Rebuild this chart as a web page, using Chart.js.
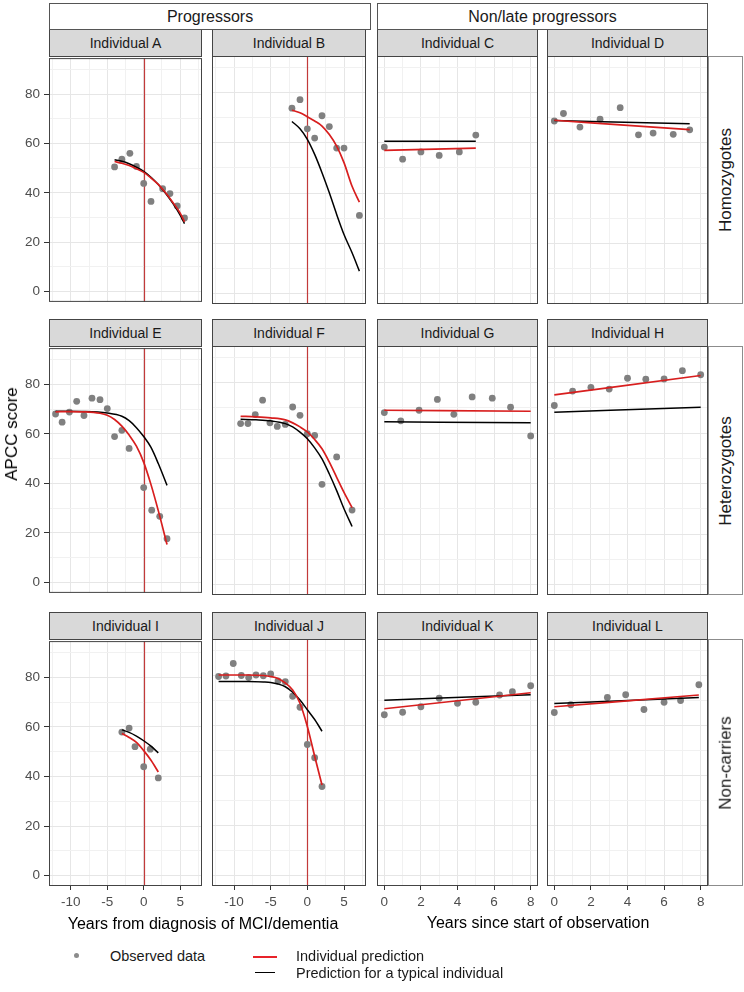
<!DOCTYPE html>
<html>
<head>
<meta charset="utf-8">
<script src="https://cdn.jsdelivr.net/npm/chart.js@4.4.1/dist/chart.umd.min.js"></script>
<style>
  body { margin: 0; width: 744px; height: 992px; position: relative; overflow: hidden; background: #fff;
         font-family: "Liberation Sans", Arial, sans-serif; color: #000; }
  canvas { position: absolute; }
  .strip { position: absolute; box-sizing: border-box; display: flex; align-items: center; justify-content: center;
           color: #1a1a1a; white-space: nowrap; }
  .ind { background: #d9d9d9; border: 1px solid #444; font-size: 14px; }
  .top { background: #fff; border: 1px solid #555; font-size: 16px; }
  .side { background: #fff; border: 1px solid #8c8c8c; }
  .side span { transform: rotate(-90deg); font-size: 17px; }
  .txt { position: absolute; white-space: nowrap; transform: translate(-50%, -50%); }
  .leg { position: absolute; white-space: nowrap; transform: translateY(-50%); font-size: 14.5px; color: #1a1a1a; }
</style>
</head>
<body>
<script>
// tick / grid positions
const gridLeftX = [-12.5, -10, -7.5, -5, -2.5, 0, 2.5, 5, 7.5];
const labelsLeftX = [-10, -5, 0, 5];
const gridRightX = [0, 1, 2, 3, 4, 5, 6, 7, 8];
const labelsRightX = [0, 2, 4, 6, 8];
const gridY = [0, 10, 20, 30, 40, 50, 60, 70, 80, 90];
const labelsY = [0, 20, 40, 60, 80];
const diagnosisYear = 0;

// [years, APCC score] : observed points, individual prediction, typical prediction
const obsA = [[-4, 50.5], [-3, 53.6], [-1.9, 56.0], [-1, 50.7], [0, 43.8], [1, 36.5], [2.6, 41.7], [3.6, 39.7], [4.6, 34.7], [5.6, 29.8]];
const indA = [[-4, 52.7], [-3, 52.0], [-2, 51.1], [-1, 49.8], [0, 48.3], [1, 46.0], [2, 43.4], [3, 40.0], [4, 36.1], [5, 31.8], [5.6, 28.2]];
const typA = [[-4, 53.4], [-3, 52.8], [-2, 51.8], [-1, 50.4], [0, 48.7], [1, 46.3], [2, 43.4], [3, 39.8], [4, 35.7], [5, 31.0], [5.6, 27.5]];

const obsB = [[-2.1, 73.8], [-1, 77.2], [0, 65.6], [1, 61.9], [2, 70.8], [3, 66.5], [4, 57.9], [5, 57.9], [7.1, 31.1]];
const indB = [[-2.1, 73.0], [-1, 72.0], [0, 70.4], [1, 68.7], [2, 66.7], [3, 63.3], [4, 58.7], [5, 52.1], [6.1, 42.7], [7.1, 36.4]];
const typB = [[-2.1, 68.5], [-1, 65.6], [0, 61.4], [1, 55.4], [2, 48.1], [3, 40.1], [4, 31.5], [5, 23.5], [6.1, 16.2], [7.1, 8.9]];

const obsC = [[0, 58.3], [1, 53.5], [2, 56.4], [3, 55.0], [4.1, 56.4], [5, 63.1]];
const indC = [[0, 57.0], [5, 57.9]];
const typC = [[0, 60.6], [5, 60.6]];

const obsD = [[0, 68.7], [0.5, 71.7], [1.4, 66.3], [2.5, 69.4], [3.6, 74.0], [4.6, 63.2], [5.4, 63.9], [6.5, 63.4], [7.4, 65.2]];
const indD = [[0, 69.0], [7.4, 65.3]];
const typD = [[0, 68.9], [7.4, 67.6]];

const obsE = [[-12.1, 68.0], [-11.2, 64.7], [-10.2, 68.8], [-9.2, 73.1], [-8.2, 67.4], [-7.1, 74.4], [-6, 73.8], [-5, 70.2],
              [-4, 58.9], [-3, 61.4], [-2, 54.1], [0, 38.3], [1.1, 29.2], [2.2, 26.7], [3.2, 17.7]];
const indE = [[-12.1, 68.9], [-10, 69.0], [-8, 68.9], [-6, 68.3], [-5, 67.5], [-4, 65.8], [-3, 63.1], [-2, 59.5], [-1, 55.0],
              [0, 48.5], [1, 39.5], [2, 29.0], [3.2, 15.3]];
const typE = [[-12.1, 69.1], [-8, 69.0], [-5, 68.4], [-3, 67.1], [-2, 65.3], [-1, 62.5], [0, 58.9], [1, 54.5], [2, 48.0], [3.2, 39.2]];

const obsF = [[-9.1, 63.8], [-8.1, 63.8], [-7.1, 67.4], [-6.1, 73.1], [-5.1, 64.1], [-4.1, 62.7], [-3, 63.5], [-2, 70.4],
              [-1, 67.1], [0, 59.8], [1, 59.1], [2, 39.7], [4, 50.6], [6.1, 29.5]];
const indF = [[-9.1, 66.7], [-7, 66.5], [-5, 66.1], [-3, 65.3], [-2, 64.1], [-1, 62.5], [0, 60.5], [1, 57.5], [2, 53.8],
              [3, 48.5], [4, 42.5], [5, 36.5], [6.1, 30.5]];
const typF = [[-9.1, 65.5], [-7, 65.3], [-5, 64.9], [-3, 63.8], [-2, 62.5], [-1, 60.4], [0, 57.8], [1, 54.2], [2, 49.8],
              [3, 43.8], [4, 37.2], [5, 30.0], [6.1, 23.0]];

const obsG = [[0, 68.2], [0.9, 64.9], [1.9, 69.1], [2.9, 73.4], [3.8, 67.5], [4.8, 74.4], [5.9, 73.9], [6.9, 70.3], [8, 58.9]];
const indG = [[0, 69.1], [8, 68.7]];
const typG = [[0, 64.5], [8, 64.1]];

const obsH = [[0, 71.0], [1, 76.7], [2, 78.2], [3, 77.5], [4, 81.8], [5, 81.4], [6, 81.5], [7, 84.8], [8, 83.2]];
const indH = [[0, 75.2], [8, 82.9]];
const typH = [[0, 68.3], [8, 70.3]];

const obsI = [[-3, 57.9], [-2, 59.5], [-1.2, 52.0], [0, 43.9], [0.9, 51.0], [2, 39.4]];
const indI = [[-3, 57.3], [-2, 55.7], [-1, 53.7], [0, 50.4], [1, 46.5], [2, 41.8]];
const typI = [[-3, 58.8], [-2, 57.8], [-1, 56.3], [0, 54.4], [1, 52.2], [2, 49.5]];

const obsJ = [[-12.1, 79.6], [-11.1, 79.8], [-10.1, 84.8], [-9, 80.0], [-8, 79.2], [-7, 80.2], [-6, 79.9], [-5, 80.6],
              [-4, 77.8], [-3, 77.5], [-2, 71.7], [-1, 67.3], [0, 52.4], [1, 47.1], [2, 35.6]];
const indJ = [[-12.1, 80.2], [-8, 80.2], [-6, 80.0], [-5, 79.6], [-4, 78.8], [-3, 77.0], [-2, 74.2], [-1, 68.9], [0, 59.6],
              [1, 47.7], [2, 36.2]];
const typJ = [[-12.1, 77.6], [-8, 77.6], [-6, 77.4], [-5, 77.2], [-4, 76.6], [-3, 75.5], [-2, 73.3], [-1, 70.2], [0, 66.3],
              [1, 62.4], [2, 57.7]];

const obsK = [[0, 64.3], [1, 65.3], [2, 67.5], [3, 70.9], [4, 68.9], [5, 69.3], [6.3, 72.2], [7, 73.5], [8, 75.9]];
const indK = [[0, 66.7], [8, 73.1]];
const typK = [[0, 70.1], [8, 72.3]];

const obsL = [[0, 65.2], [0.9, 68.3], [2.9, 71.2], [3.9, 72.3], [4.9, 66.4], [6, 69.3], [6.9, 70.0], [7.9, 76.3]];
const indL = [[0, 67.5], [7.9, 72.2]];
const typL = [[0, 68.8], [7.9, 71.2]];

const panels = [
  { name: 'Individual A', obs: obsA, ind: indA, typ: typA, row: 0, col: 0 },
  { name: 'Individual B', obs: obsB, ind: indB, typ: typB, row: 0, col: 1 },
  { name: 'Individual C', obs: obsC, ind: indC, typ: typC, row: 0, col: 2 },
  { name: 'Individual D', obs: obsD, ind: indD, typ: typD, row: 0, col: 3 },
  { name: 'Individual E', obs: obsE, ind: indE, typ: typE, row: 1, col: 0 },
  { name: 'Individual F', obs: obsF, ind: indF, typ: typF, row: 1, col: 1 },
  { name: 'Individual G', obs: obsG, ind: indG, typ: typG, row: 1, col: 2 },
  { name: 'Individual H', obs: obsH, ind: indH, typ: typH, row: 1, col: 3 },
  { name: 'Individual I', obs: obsI, ind: indI, typ: typI, row: 2, col: 0 },
  { name: 'Individual J', obs: obsJ, ind: indJ, typ: typJ, row: 2, col: 1 },
  { name: 'Individual K', obs: obsK, ind: indK, typ: typK, row: 2, col: 2 },
  { name: 'Individual L', obs: obsL, ind: indL, typ: typL, row: 2, col: 3 }
];
const rowNames = ['Homozygotes', 'Heterozygotes', 'Non-carriers'];

// layout
const colX = [49, 212, 377, 547], colW = [153, 154, 161, 161];
const rowY = [56, 346, 639], rowH = [248, 249, 247];
const M = 10, yAxisW = 40, xAxisH = 28;
const FONT = '"Liberation Sans", Arial, sans-serif';
const RED = '#d81e1e';

function addDiv(cls, css, html) {
  let d = document.createElement('div');
  d.className = cls;
  d.style.cssText = css;
  d.innerHTML = html;
  document.body.appendChild(d);
  return d;
}

const pts = arr => arr.map(([x, y]) => ({ x: x, y: y }));

const framePlugin = {
  id: 'frame',
  beforeDatasetsDraw(chart, args, opts) {
    if (!opts.vline) return;
    let a = chart.chartArea, ctx = chart.ctx;
    let x = Math.round(chart.scales.x.getPixelForValue(diagnosisYear)) + 0.5;
    ctx.save();
    ctx.strokeStyle = '#c23a3a';
    ctx.lineWidth = 1.2;
    ctx.beginPath();
    ctx.moveTo(x, a.top);
    ctx.lineTo(x, a.bottom);
    ctx.stroke();
    ctx.restore();
  },
  afterDraw(chart) {
    let a = chart.chartArea, ctx = chart.ctx;
    ctx.save();
    ctx.strokeStyle = '#444';
    ctx.lineWidth = 1;
    ctx.strokeRect(a.left + 0.5, a.top + 0.5, a.right - a.left - 1, a.bottom - a.top - 1);
    ctx.restore();
  }
};

function axis(grid, labels, min, max, show, size) {
  return {
    type: 'linear',
    min: min,
    max: max,
    afterBuildTicks: s => { s.ticks = grid.map(v => ({ value: v })); },
    afterFit: s => { if (s.isHorizontal()) s.height = show ? size : 0; else s.width = show ? size : 0; },
    border: { display: false },
    grid: {
      color: c => labels.includes(c.tick.value) ? '#e6e6e6' : '#f1f1f1',
      lineWidth: 1,
      drawTicks: show,
      tickLength: 4,
      tickWidth: 1,
      tickColor: c => labels.includes(c.tick.value) ? '#333' : 'rgba(0,0,0,0)'
    },
    ticks: {
      display: show,
      autoSkip: false,
      maxRotation: 0,
      padding: 4,
      color: '#4d4d4d',
      font: { size: 13.5, family: FONT },
      callback: v => labels.includes(v) ? String(v) : ''
    }
  };
}

for (let p of panels) {
  let progressor = p.col < 2;
  let hasY = p.col === 0, hasX = p.row === 2;
  let w = colW[p.col] + 2 * M + (hasY ? yAxisW : 0);
  let h = rowH[p.row] + 2 * M + (hasX ? xAxisH : 0);

  let canvas = document.createElement('canvas');
  canvas.width = w;
  canvas.height = h;
  canvas.style.left = (colX[p.col] - M - (hasY ? yAxisW : 0)) + 'px';
  canvas.style.top = (rowY[p.row] - M) + 'px';
  canvas.style.width = w + 'px';
  canvas.style.height = h + 'px';
  document.body.appendChild(canvas);

  addDiv('strip ind', `left:${colX[p.col]}px;top:${rowY[p.row] - 27}px;width:${colW[p.col]}px;height:28px;`, p.name);

  let xAxis = progressor
    ? axis(gridLeftX, labelsLeftX, -13, 8, hasX, xAxisH)
    : axis(gridRightX, labelsRightX, -0.4, 8.4, hasX, xAxisH);
  xAxis.grid.tickLength = 4;
  let yAxis = axis(gridY, labelsY, -4.2, 94.6, hasY, yAxisW);
  yAxis.grid.tickLength = 5;

  new Chart(canvas, {
    type: 'scatter',
    data: {
      datasets: [
        { data: pts(p.ind), showLine: true, borderColor: RED, borderWidth: 1.7, pointRadius: 0, cubicInterpolationMode: 'monotone' },
        { data: pts(p.typ), showLine: true, borderColor: '#000', borderWidth: 1.5, pointRadius: 0, cubicInterpolationMode: 'monotone' },
        { data: pts(p.obs), showLine: false, pointRadius: 3.4, pointBorderWidth: 0, backgroundColor: '#808080', borderColor: '#808080' }
      ]
    },
    options: {
      responsive: false,
      animation: false,
      devicePixelRatio: 1,
      layout: { padding: M },
      plugins: { legend: { display: false }, tooltip: { enabled: false }, frame: { vline: progressor } },
      scales: { x: xAxis, y: yAxis }
    },
    plugins: [framePlugin]
  });
}

// column group strips and row strips
addDiv('strip top', 'left:49px;top:3px;width:322px;height:27px;', 'Progressors');
addDiv('strip top', 'left:377px;top:3px;width:331px;height:27px;', 'Non/late progressors');
rowNames.forEach((n, i) => {
  addDiv('strip side', `left:708px;top:${rowY[i]}px;width:35px;height:${rowH[i]}px;`, `<span>${n}</span>`);
});

// axis titles
addDiv('txt', 'left:12px;top:434px;font-size:17px;transform:translate(-50%,-50%) rotate(-90deg);', 'APCC score');
addDiv('txt', 'left:203px;top:924px;font-size:16px;', 'Years from diagnosis of MCI/dementia');
addDiv('txt', 'left:538px;top:923px;font-size:16px;', 'Years since start of observation');

// legend
addDiv('', 'position:absolute;left:73.5px;top:952.5px;width:5.5px;height:5.5px;border-radius:50%;background:#8c8c8c;', '');
addDiv('leg', 'left:110px;top:956px;', 'Observed data');
addDiv('', 'position:absolute;left:253px;top:956px;width:24px;height:2px;background:#e8232a;', '');
addDiv('leg', 'left:296px;top:956px;', 'Individual prediction');
addDiv('', 'position:absolute;left:255px;top:971.5px;width:20px;height:1.8px;background:#000;', '');
addDiv('leg', 'left:296px;top:973px;', 'Prediction for a typical individual');
</script>
</body>
</html>
